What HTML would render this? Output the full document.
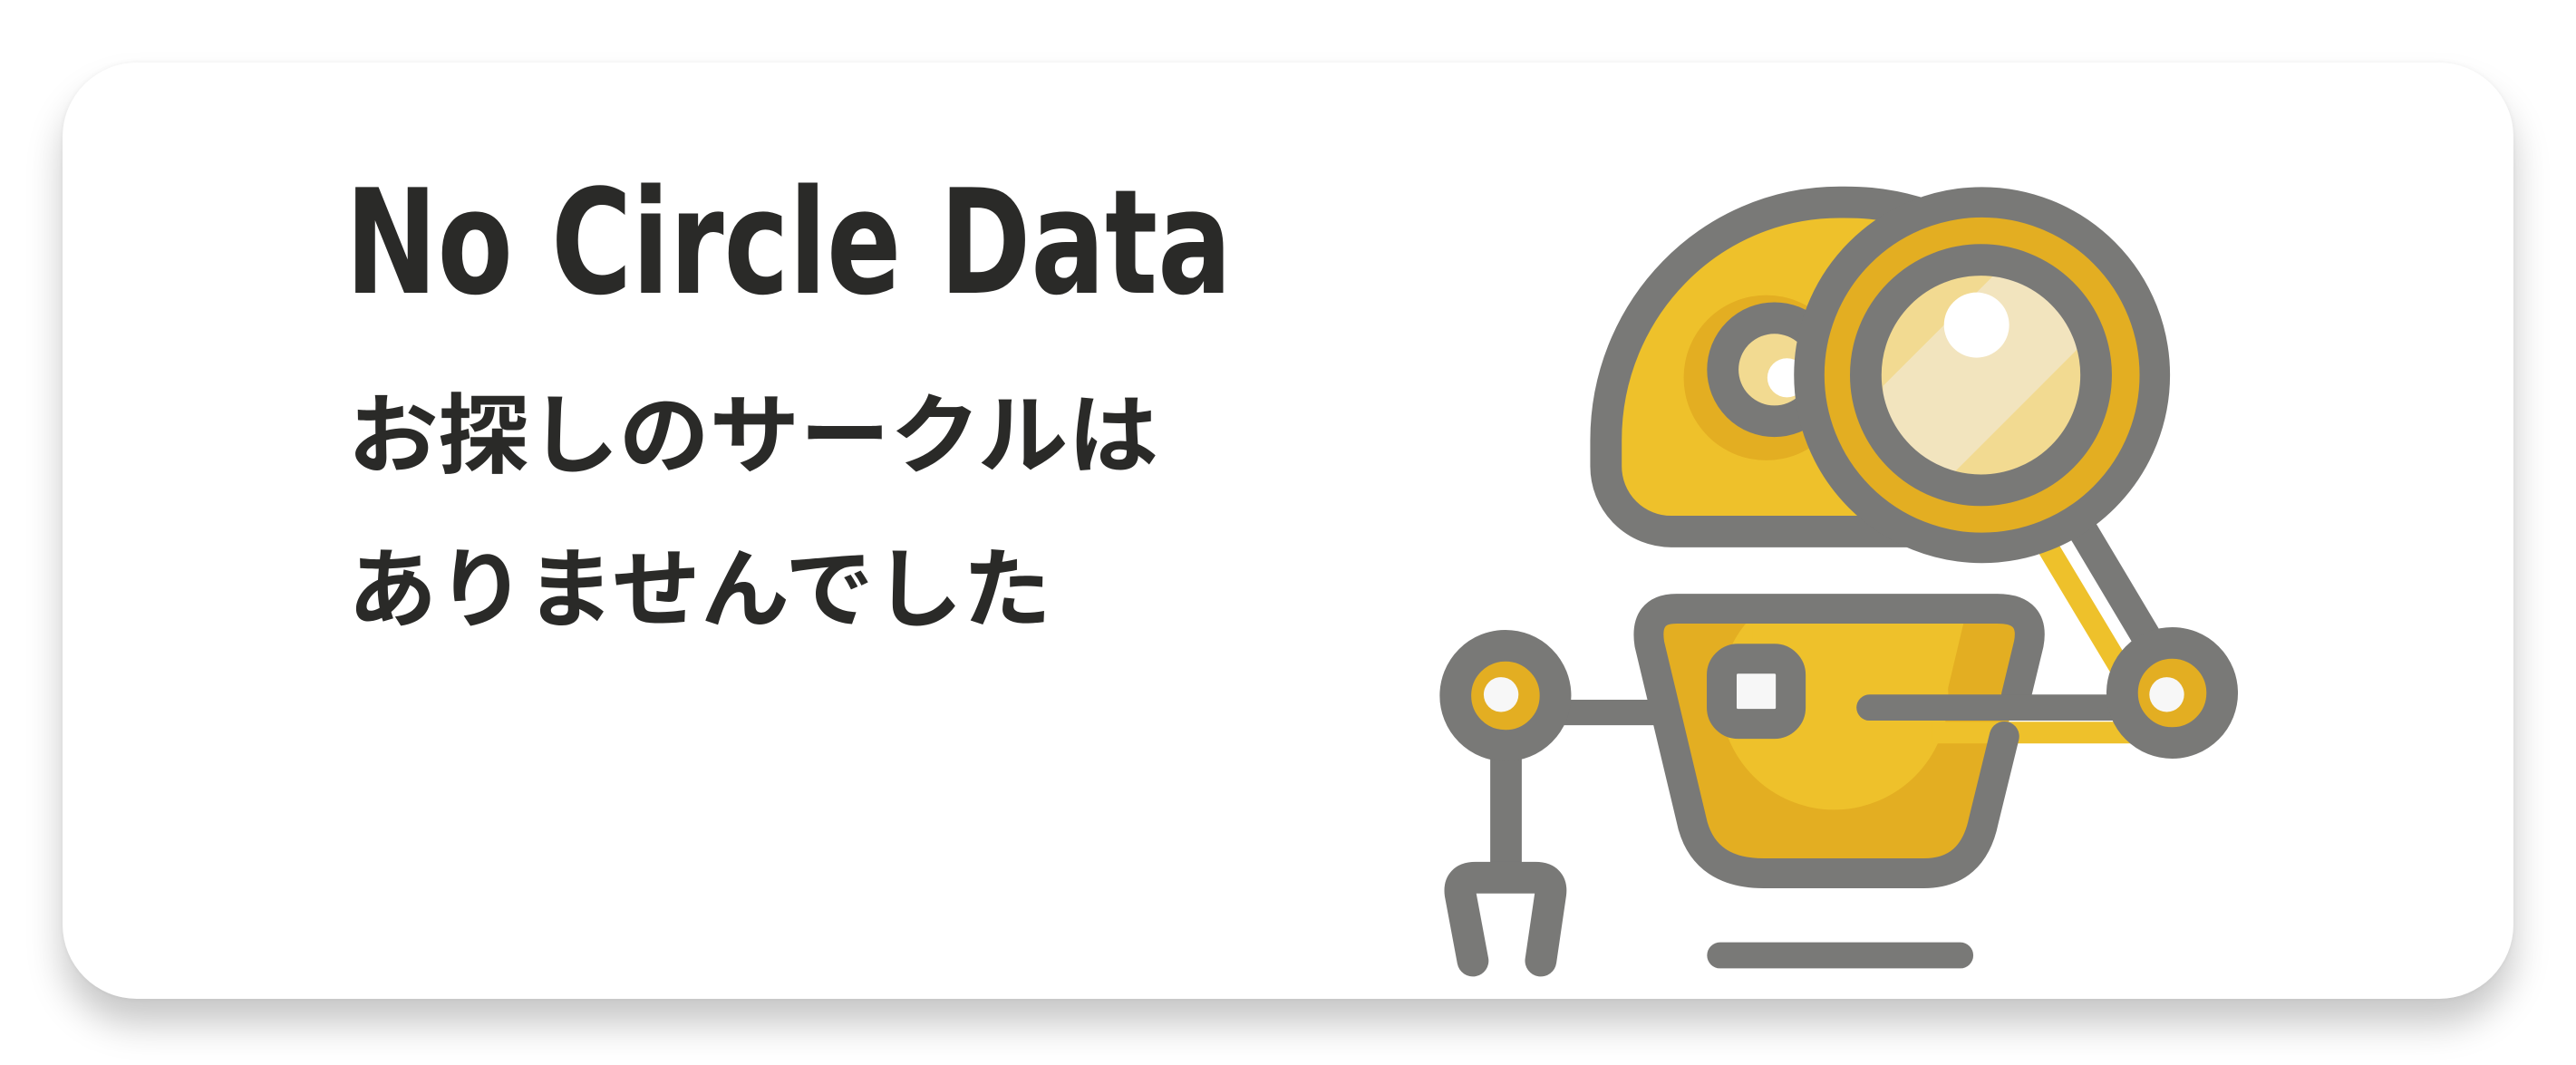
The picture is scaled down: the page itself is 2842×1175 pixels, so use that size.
<!DOCTYPE html>
<html><head><meta charset="utf-8"><style>
html,body{margin:0;padding:0;background:#fff;width:2842px;height:1175px;overflow:hidden}
.card{position:absolute;left:69px;top:69px;width:2704px;height:1033px;background:#fff;border-radius:82px;box-shadow:0 28px 40px rgba(0,0,0,0.22),0 0 6px rgba(0,0,0,0.05)}
svg{position:absolute;left:0;top:0}
</style></head><body>
<div class="card"></div>
<svg width="2842" height="1175" viewBox="0 0 2842 1175">
<text x="381" y="323" font-family="DejaVu Sans, sans-serif" font-weight="bold" font-size="160" fill="#2a2a28" textLength="978" lengthAdjust="spacingAndGlyphs">No Circle Data</text>
<text x="384" y="514" font-family="Liberation Sans, 'Noto Sans CJK JP', sans-serif" font-weight="bold" font-size="96" fill="#2a2a28" textLength="894" lengthAdjust="spacingAndGlyphs">お探しのサークルは</text>
<text x="384" y="684" font-family="Liberation Sans, 'Noto Sans CJK JP', sans-serif" font-weight="bold" font-size="96" fill="#2a2a28" textLength="776" lengthAdjust="spacingAndGlyphs">ありませんでした</text>
<defs>
<clipPath id="bodyclip"><path d="M500 870 L1090 870 Q1160 870 1148 935 L1065 1260 Q1045 1357 955 1357 L660 1357 Q555 1357 530 1270 L450 935 Q440 870 500 870 Z"/></clipPath>
<clipPath id="lensclip"><circle cx="1060" cy="440" r="212"/></clipPath>
</defs>
<g transform="translate(1550,150) scale(0.5995)" stroke="#797977" stroke-linecap="round" stroke-linejoin="round">
<line x1="1185" y1="760" x2="1320" y2="985" stroke="#EEC12B" stroke-width="40"/>
<line x1="1250" y1="730" x2="1405" y2="990" stroke-width="55"/>
<path d="M940 140 C870 120 820 122 800 122 C560 122 370 320 370 560 L370 608 A120 120 0 0 0 490 728 L940 728 Z" fill="#EEC12B" stroke-width="58"/>
<circle cx="665" cy="445" r="152" fill="#E3AE22" stroke="none"/>
<circle cx="680" cy="430" r="95" fill="#F2DA91" stroke-width="58"/>
<circle cx="703" cy="445" r="36" fill="#fff" stroke="none"/>
<circle cx="1062" cy="440" r="318" fill="#E3AE22" stroke-width="56"/>
<circle cx="1060" cy="440" r="212" fill="#F2DA91" stroke="none"/>
<g clip-path="url(#lensclip)" stroke="none">
<polygon points="1120,240 1250,240 1250,380 1000,630 880,630 880,480" fill="#F2E4BE"/>
<polygon points="1100,240 1140,240 880,500 880,460" fill="#F2E4BE"/>
</g>
<circle cx="1060" cy="440" r="212" fill="none" stroke-width="58"/>
<circle cx="1052" cy="348" r="60" fill="#fff" stroke="none"/>
<path d="M500 870 L1090 870 Q1160 870 1148 935 L1065 1260 Q1045 1357 955 1357 L660 1357 Q555 1357 530 1270 L450 935 Q440 870 500 870 Z" fill="#E3AE22" stroke="none"/>
<g clip-path="url(#bodyclip)" stroke="none" fill="#EEC12B">
<circle cx="790" cy="1030" r="210"/>
<polygon points="640,880 1032,880 995,1035 640,1035"/>
</g>
<rect x="970" y="1078" width="380" height="40" fill="#EEC12B" stroke="none"/>
<path d="M1125 1030 L1148 935 Q1160 870 1090 870 L500 870 Q440 870 450 935 L530 1270 Q555 1357 660 1357 L955 1357 Q1045 1357 1065 1260 L1103 1105" fill="none" stroke-width="55"/>
<rect x="583" y="962" width="127" height="120" rx="30" fill="#F7F7F7" stroke-width="55"/>
<line x1="855" y1="1052" x2="1320" y2="1052" stroke-width="48"/>
<circle cx="1412" cy="1025" r="92" fill="#E3AE22" stroke-width="58"/>
<circle cx="1402" cy="1028" r="32" fill="#F7F7F7" stroke="none"/>
<line x1="290" y1="1061" x2="460" y2="1061" stroke-width="47" stroke-linecap="butt"/>
<line x1="186" y1="1120" x2="186" y2="1370" stroke-width="58" stroke-linecap="butt"/>
<path d="M125 1518 L102 1395 Q98 1365 130 1365 L240 1365 Q272 1365 268 1395 L250 1518" fill="none" stroke-width="58"/>
<circle cx="185" cy="1030" r="92" fill="#E3AE22" stroke-width="58"/>
<circle cx="177" cy="1028" r="32" fill="#F7F7F7" stroke="none"/>
<line x1="580" y1="1508" x2="1022" y2="1508" stroke-width="48"/>
</g>
</svg>
</body></html>
